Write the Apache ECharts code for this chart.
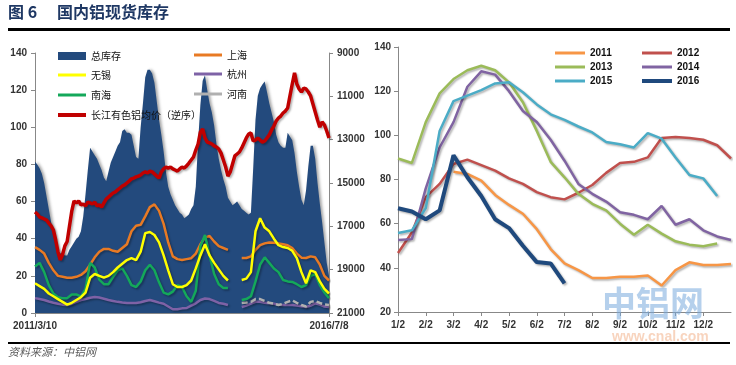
<!DOCTYPE html>
<html>
<head>
<meta charset="utf-8">
<script src="https://cdn.jsdelivr.net/npm/echarts@6/dist/echarts.min.js"></script>
<style>
html,body{margin:0;padding:0;background:#fff;}
#c{width:736px;height:365px;}
</style>
</head>
<body>
<div id="c"></div>
<script>
// ---------- Left panel: 2011/3/10 - 2016/7/8 ----------
// semi-monthly grid (index j -> j/2 months after 2011/3/10)
const totalStock = [81.5,80,78,75,70,63,56,49,43,37,
  33,32,32,31,31,34,36,38,40,41,
  44,52,64,77,89,87,85,83,80,77,
  73,71,76,81,84,87,90,92,98,99,
  97,97,96,90,84,83,100,113,127,131,
  131,129,124,114,104,96,87,76,68,64,
  61,58,56,54,53,51,52,53,56,58,
  68,92,112,125,128,120,113,108,101,91,
  83,77,72,68,62,60,58,59,60,58,
  56,55,54,53,54,78,104,117,121,123,
  124.6,119,113,108,103,96,92,90,89,89,
  97,95,93,86,76,68,61,58,66,79,
  90,90,83,70,59,49,38,27,20];
const alPrice = [16340,16430,16570,16610,16660,16710,16850,16980,17170,17630,
  18180,18550,18300,17900,17700,17000,16300,15830,15920,15830,
  16010,15970,16060,15880,15920,15970,15880,16060,16010,16110,
  15920,15740,15650,15550,15460,15410,15320,15230,15140,15090,
  15000,14910,14810,14770,14720,14680,14630,14540,14490,14540,
  14450,14490,14580,14680,14770,14490,14350,14260,14310,14260,
  14350,14400,14450,14350,14260,14310,14210,14080,13940,13800,
  13480,13200,12650,12510,12920,13110,13150,13200,13290,13340,
  13430,13620,13940,14260,14680,14490,14120,13750,13660,13570,
  13380,13150,12920,12740,12690,13060,13020,12920,13020,13110,
  13060,12920,12780,12550,12370,12140,12000,11910,11770,11680,
  11540,10980,10430,9920,10430,10660,10800,10620,10660,10800,
  10980,11350,11720,12090,12420,12180,12320,12600,12920];
// monthly grid (index i -> i months after 2011/3/10)
const shanghai = [35.5,34,32,27,23,20,19.5,19,19,19.5,
  20.5,22.5,26,30,33,34.5,34.5,33.5,33,35,
  37,44,47,47.5,52,57,58.5,55,48,38,
  30.5,29,28.5,29,29.5,32,37,40.5,41.5,38.5,
  36,35,34,null,null,29.6,29.6,30.5,34,36.5,
  37.5,38,37.8,37.5,37,36.5,35,32,29.8,29.6,
  30.5,30,26,20,17.5];
const wuxi = [16,14.5,13,10.5,9,7.5,6,4.5,5.5,7,
  8.5,11,19,21,20,19,20,22,24.5,26.5,
  28.5,29.5,28.5,33,43,43.6,42,38,31,23,
  15.5,14,14,15,17.5,24,31,37,31,27,
  23.5,20,17.5,null,null,17.8,18.5,22,44,51,
  46,44,40,36.5,35.5,35,33.5,29.5,22,16,
  23,22,17,13,10.5];
const hangzhou = [8,7.5,7,6.2,5.5,5,4.5,4.3,5,6,
  7,7.5,8.2,8.6,8.3,7.7,7,6.5,6,5.6,
  5.4,5.4,5.4,5.8,6.5,7,6.3,5.6,5,3.5,
  2,2,2.5,2.7,4,5.2,7,7.8,7.5,6.5,
  5.4,5,4.3,null,null,3.2,4,5,6,6,
  5.5,5.2,5,4.5,4.3,4.3,4.3,4,3.6,3.2,
  4,5.2,4.5,3.5,3.2];
const nanhai = [25,27,22,15,10.5,8.5,8,8,10,10,
  8.8,13,27,24.5,18,15.5,15.5,19.5,23,24,
  20,15,14,17,23,26,23,16.5,11,10,
  11.5,15,14,9,6,12,36,42,31,21,
  15.5,13.5,13.5,null,null,7,7.5,9,17,26,
  30,27,24,22,17.8,17,16.7,15.5,14,15,
  20,21,15,11,8];
const henanStart = 45;
const henan = [5.4,5.6,6,7.5,7.5,6.5,5.5,5,4.3,5,6,6.8,5.5,4.3,3.5,6,6.5,5.4,4.6,4.3];
const leftXLabels = ['2011/3/10','2016/7/8'];
const leftMonths = 64;

// ---------- Right panel: seasonal ----------
const halfLabels = ['1/2','1/17','2/2','2/17','3/2','3/17','4/2','4/17','5/2','5/17','6/2','6/17',
  '7/2','7/17','8/2','8/17','9/2','9/17','10/2','10/17','11/2','11/17','12/2','12/17','次年1/2'];
const y2011 = [null,null,null,null,83.5,82.5,79.5,73,68.5,64.5,57.5,48.5,42,39,35.4,35.4,36,36,36.5,32,39,42.5,41.3,41.3,41.7];
const y2012 = [46.7,56,72,78,87,89,86.5,84,80.5,78,74.3,72,71,74,77.5,83,87.5,88,90,98.8,99.3,98.8,98,95.5,89.5];
const y2013 = [89.5,87.5,106,119,125.5,129.5,131.5,129.5,124,115,102,88,81,73.5,69,66,60,55,59.5,55.5,52,50.5,49.8,51,null];
const y2014 = [52.6,53,76,94.5,106,122,129,127.5,120,111,106,98,88.5,78,73.5,70,65.2,64,62,68,59.5,62,57,54.2,52.6];
const y2015 = [55.8,57,67,102,115.5,118,120.5,123.5,124,119.5,114,109.5,107,104,101.3,97,96,94.5,101,98.5,90,82,80.5,72.5,null];
const y2016 = [67,65.5,62,66,91,81,72.5,62,58,50,42.6,42,33];

// ---------- build ----------
const half = arr => arr.map((v, j) => [j / 2, v]);
const mon = (arr, start) => arr.map((v, i) => [i + (start || 0), v]);

const FONT = "'Liberation Sans', Arial, sans-serif";
const CJK = "'Noto Sans CJK SC', sans-serif";
const axisLabelStyle = {color: '#333', fontSize: 10, fontWeight: 'bold', fontFamily: FONT};
const shadow = {shadowColor: 'rgba(0,0,0,0.3)', shadowBlur: 2, shadowOffsetX: 1.5, shadowOffsetY: 1.5};

function lineSeries(name, data, color, width, xi, yi, extra) {
  return Object.assign({
    name, type: 'line', data, xAxisIndex: xi, yAxisIndex: yi,
    symbol: 'none', showSymbol: false, connectNulls: false, animation: false,
    color, lineStyle: Object.assign({color, width}, shadow)
  }, extra || {});
}

const colors = {
  total: '#234a7d', sh: '#e87a24', wx: '#ffff00', hz: '#7e62a6', nh: '#14a85a', hn: '#b0b0b0', price: '#c00000',
  y2011: '#f79646', y2012: '#c0504d', y2013: '#9bbb59', y2014: '#8064a2', y2015: '#4bacc6', y2016: '#1f497d'
};

const series = [
  {
    name: '总库存', type: 'line', data: half(totalStock), xAxisIndex: 0, yAxisIndex: 0,
    symbol: 'none', showSymbol: false, animation: false, color: colors.total,
    lineStyle: {width: 0},
    areaStyle: {color: colors.total, opacity: 1, shadowColor: 'rgba(0,0,0,0.35)', shadowBlur: 3, shadowOffsetX: 2, shadowOffsetY: 0}
  },
  lineSeries('上海', mon(shanghai), colors.sh, 2.5, 0, 0),
  lineSeries('杭州', mon(hangzhou), colors.hz, 2.5, 0, 0),
  lineSeries('河南', mon(henan, henanStart), colors.hn, 2.5, 0, 0, {lineStyle: Object.assign({color: colors.hn, width: 2.5, type: [6, 3]}, shadow)}),
  lineSeries('南海', mon(nanhai), colors.nh, 2.5, 0, 0),
  lineSeries('无锡', mon(wuxi), colors.wx, 2.5, 0, 0),
  lineSeries('长江有色铝均价（逆序）', half(alPrice), colors.price, 3.5, 0, 1),
  lineSeries('2011', y2011, colors.y2011, 2.5, 1, 2),
  lineSeries('2012', y2012, colors.y2012, 2.5, 1, 2),
  lineSeries('2013', y2013, colors.y2013, 2.5, 1, 2),
  lineSeries('2014', y2014, colors.y2014, 2.5, 1, 2),
  lineSeries('2015', y2015, colors.y2015, 2.5, 1, 2),
  lineSeries('2016', y2016, colors.y2016, 4, 1, 2)
];

function leg(name, color, left, top, h, w, bold) {
  return {
    data: [name], left, top, icon: 'rect', itemWidth: w || 28, itemHeight: h || 3,
    padding: 0, selectedMode: false,
    itemStyle: {color, borderWidth: 0, shadowBlur: 0, shadowOffsetX: 0, shadowOffsetY: 0},
    lineStyle: {type: 'solid'},
    textStyle: {fontSize: 10, color: '#111', fontFamily: bold ? FONT : CJK, fontWeight: bold ? 'bold' : 'normal', lineHeight: 14}
  };
}

const legend = [
  leg('总库存', colors.total, 58, 49, 8, 28),
  leg('无锡', colors.wx, 58, 68),
  leg('南海', colors.nh, 58, 88),
  leg('长江有色铝均价（逆序）', colors.price, 58, 108, 4),
  leg('上海', colors.sh, 194, 48),
  leg('杭州', colors.hz, 194, 67),
  leg('河南', colors.hn, 194, 87),
  leg('2011', colors.y2011, 555, 46, 3, 30, true),
  leg('2012', colors.y2012, 642, 46, 3, 30, true),
  leg('2013', colors.y2013, 555, 60, 3, 30, true),
  leg('2014', colors.y2014, 642, 60, 3, 30, true),
  leg('2015', colors.y2015, 555, 74, 3, 30, true),
  leg('2016', colors.y2016, 642, 74, 4, 30, true)
];

const option = {
  backgroundColor: '#fff',
  animation: false,
  grid: [
    {left: 35, top: 53, width: 294, height: 260},
    {left: 398, top: 47, width: 333, height: 265}
  ],
  legend,
  xAxis: [
    {
      gridIndex: 0, type: 'value', min: 0, max: leftMonths, interval: leftMonths,
      axisLine: {show: true, lineStyle: {color: '#888'}},
      axisTick: {show: true, length: 4, lineStyle: {color: '#888'}},
      splitLine: {show: false},
      axisLabel: Object.assign({}, axisLabelStyle, {margin: 8,
        formatter: v => v === 0 ? leftXLabels[0] : leftXLabels[1]})
    },
    {
      gridIndex: 1, type: 'category', data: halfLabels, boundaryGap: false,
      axisLine: {show: true, lineStyle: {color: '#888'}},
      axisTick: {show: true, length: 4, interval: i => i % 2 === 0 && i < 24, lineStyle: {color: '#888'}},
      axisLabel: Object.assign({}, axisLabelStyle, {margin: 8, interval: i => i % 2 === 0 && i < 24}),
      splitLine: {show: false}
    }
  ],
  yAxis: [
    {
      gridIndex: 0, type: 'value', min: 0, max: 140, interval: 20, position: 'left',
      axisLine: {show: true, lineStyle: {color: '#888'}},
      axisTick: {show: true, length: 4, lineStyle: {color: '#888'}},
      splitLine: {show: false},
      axisLabel: Object.assign({}, axisLabelStyle, {margin: 8})
    },
    {
      gridIndex: 0, type: 'value', min: 9000, max: 21000, interval: 2000, inverse: true, position: 'right',
      axisLine: {show: true, lineStyle: {color: '#888'}},
      axisTick: {show: true, length: 4, lineStyle: {color: '#888'}},
      splitLine: {show: false},
      axisLabel: Object.assign({}, axisLabelStyle, {margin: 8, formatter: v => String(v)})
    },
    {
      gridIndex: 1, type: 'value', min: 20, max: 140, interval: 20, position: 'left',
      axisLine: {show: true, lineStyle: {color: '#888'}},
      axisTick: {show: true, length: 4, lineStyle: {color: '#888'}},
      splitLine: {show: false},
      axisLabel: Object.assign({}, axisLabelStyle, {margin: 7})
    }
  ],
  series,
  graphic: [
    {type: 'text', left: 8, top: 4, style: {text: '图 6', fill: '#1f3864', font: "bold 16px 'Noto Sans CJK SC', sans-serif"}},
    {type: 'text', left: 57, top: 4, style: {text: '国内铝现货库存', fill: '#1f3864', font: "bold 16px 'Noto Sans CJK SC', sans-serif"}},
    {type: 'rect', left: 8, top: 28, shape: {width: 722, height: 3}, style: {fill: '#000'}},
    {type: 'rect', left: 8, top: 342, shape: {width: 722, height: 2}, style: {fill: '#000'}},
    {type: 'text', left: 8, top: 346, style: {text: '资料来源：中铝网', fill: '#5a5a5a', font: "italic 11px 'Noto Sans CJK SC', sans-serif"}},
    {type: 'text', left: 602, top: 286, z: 100, style: {text: '中铝网', fill: 'rgba(120,170,220,0.55)', font: "bold 34px 'Noto Sans CJK SC', sans-serif"}},
    {type: 'text', left: 612, top: 330, z: 100, style: {text: 'www.cnal.com', fill: 'rgba(240,160,110,0.45)', font: "bold 14px 'Liberation Sans', sans-serif"}}
  ]
};

const chart = echarts.init(document.getElementById('c'), null, {renderer: 'canvas'});
chart.setOption(option);
</script>
</body>
</html>
